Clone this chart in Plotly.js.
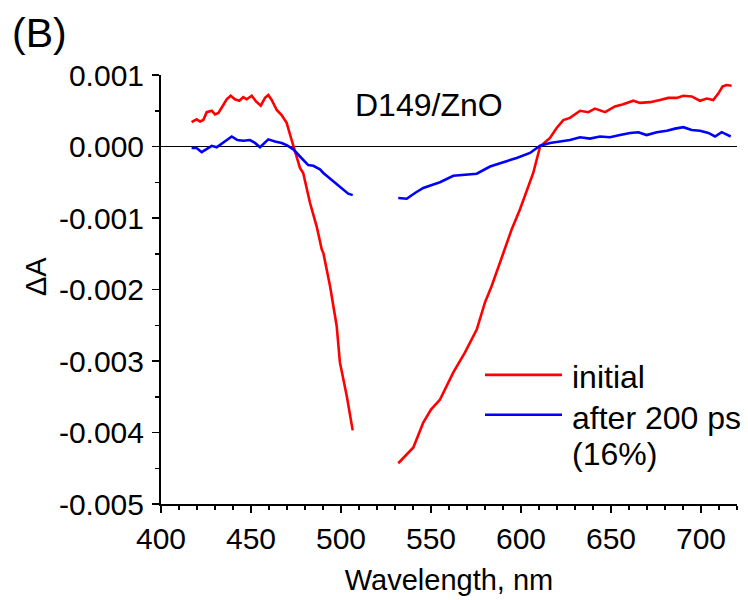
<!DOCTYPE html>
<html><head><meta charset="utf-8">
<script src="https://cdn.plot.ly/plotly-3.0.1.min.js"></script>
<style>html,body{margin:0;padding:0;background:#fff;}</style>
</head><body>
<div id="chart" style="width:748px;height:600px;"></div>
<script>
// initial spectrum (red), gap between segments as null
const initialX = [417,419.8,421.7,423.5,425.4,428.2,430,431.9,434.6,436.5,438.7,441.1,443.5,445.7,447.6,450.4,452.8,455.4,457.8,459.6,461.5,464.3,467,469.8,472,474.4,477.2,479,482.8,486.5,489.3,490.2,493.9,497.6,499.4,503.2,506.5,
  null,
  531.8,536,540.2,545.7,550,555,562.4,568.9,575.4,580,583.7,590.2,594.8,599.4,606.8,610.6,616.1,619.8,623.5,627.2,632.8,637.4,641.1,646.7,652.2,656.8,662.4,666.1,671.7,677.2,681.8,686.5,690.2,694.8,699.4,703.2,706.8,709.6,712,714.3,717];
const initialY = [0.00034,0.00038,0.00035,0.00037,0.00048,0.0005,0.00045,0.00047,0.00058,0.00066,0.00071,0.00066,0.00064,0.00069,0.00066,0.00071,0.00063,0.00057,0.00068,0.00072,0.00065,0.00051,0.00044,0.00033,0.00014,-0.00007,-0.0003,-0.00037,-0.00079,-0.00112,-0.00144,-0.00149,-0.00195,-0.00251,-0.00302,-0.00349,-0.00397,
  null,
  -0.00443,-0.00432,-0.00421,-0.00386,-0.00368,-0.00354,-0.00316,-0.00288,-0.00256,-0.00218,-0.00195,-0.00149,-0.00116,-0.00088,-0.00037,0.0,0.00012,0.00026,0.00037,0.0004,0.0005,0.00048,0.00053,0.00048,0.00056,0.00059,0.00064,0.00061,0.00062,0.00065,0.00068,0.00068,0.00071,0.0007,0.00064,0.00067,0.00065,0.00074,0.00084,0.00086,0.00085];

// after 200 ps spectrum (blue)
const laterX = [417,419.8,422.6,425.4,428.2,430.9,434.6,439.3,442.4,445.7,449.4,452.2,455,459.6,463.3,467,469.8,473.5,477.2,481.8,484.6,488.3,490.2,495.7,500.4,504,506.5,
  null,
  531.8,536.5,541.1,545.7,551.3,555,562.4,568.9,575.4,582.8,589.3,597.6,605,610.6,616.1,621.7,627.2,632.8,638.3,643.9,649.4,655,660.6,665.2,669.8,675.4,681,685.6,690.2,694.8,699.4,704.1,707.8,711.5,714.3,716.5];
const laterY = [-0.00002,-0.00002,-0.00008,-0.00004,0.00001,-0.00001,0.00006,0.00014,0.00009,0.00008,0.00009,0.00005,-0.00001,0.0001,0.00007,0.00005,0.00002,-0.00004,-0.00014,-0.00026,-0.00027,-0.00032,-0.00037,-0.00049,-0.00058,-0.00066,-0.00068,
  null,
  -0.00072,-0.00073,-0.00065,-0.00058,-0.00053,-0.0005,-0.00041,-0.0004,-0.00038,-0.00028,-0.00023,-0.00016,-0.00009,0.00001,0.00005,0.00007,0.00009,0.00013,0.00011,0.00014,0.00013,0.00016,0.00019,0.0002,0.00016,0.0002,0.00022,0.00025,0.00027,0.00023,0.00022,0.00019,0.00014,0.0002,0.00017,0.00014];

const seriesNames = ["initial", "after 200 ps", "(16%)"];
const seriesColors = ["#ff0000", "#0000ff"];
const yTickVals = [0.001,0,-0.001,-0.002,-0.003,-0.004,-0.005];
const yTickText = ["0.001","0.000","-0.001","-0.002","-0.003","-0.004","-0.005"];
const xTickVals = [400,450,500,550,600,650,700];

const FONT = "Arial, 'Liberation Sans', sans-serif";

const traces = [
  {x: initialX, y: initialY, mode: "lines", name: seriesNames[0], connectgaps: false,
   line: {color: seriesColors[0], width: 2.6}, showlegend: false},
  {x: laterX, y: laterY, mode: "lines", name: seriesNames[1], connectgaps: false,
   line: {color: seriesColors[1], width: 2.6}, showlegend: false}
];

const layout = {
  width: 748, height: 600,
  margin: {l: 161, r: 11, t: 75, b: 96},
  paper_bgcolor: "#fff", plot_bgcolor: "#fff",
  font: {family: FONT, size: 30, color: "#000"},
  xaxis: {
    range: [400, 720], showgrid: false, zeroline: false,
    showline: true, linecolor: "#000", linewidth: 2,
    ticks: "outside", ticklen: 7, tickwidth: 1.5, tickcolor: "#000",
    tickvals: xTickVals, tickfont: {size: 30},
    minor: {dtick: 10, ticks: "outside", ticklen: 4, tickwidth: 1.5, tickcolor: "#000", showgrid: false},
    title: {text: "Wavelength, nm", font: {size: 29}, standoff: 16}
  },
  yaxis: {
    range: [-0.005, 0.001], showgrid: false,
    zeroline: true, zerolinecolor: "#000", zerolinewidth: 1.5,
    showline: true, linecolor: "#000", linewidth: 2,
    ticks: "outside", ticklen: 7, tickwidth: 1.5, tickcolor: "#000",
    ticklabelstandoff: 2,
    tickvals: yTickVals, ticktext: yTickText, tickfont: {size: 30},
    minor: {dtick: 0.0005, ticks: "outside", ticklen: 4, tickwidth: 1.5, tickcolor: "#000", showgrid: false}
  },
  shapes: [
    {type: "line", xref: "x", yref: "y", x0: 580, x1: 622.8, y0: -0.003194, y1: -0.003194,
     line: {color: seriesColors[0], width: 2.6}},
    {type: "line", xref: "x", yref: "y", x0: 580, x1: 622.8, y0: -0.003752, y1: -0.003752,
     line: {color: seriesColors[1], width: 2.6}}
  ],
  annotations: [
    {text: "(B)", xref: "paper", yref: "paper", x: -0.262, y: 1.098, xanchor: "left", yanchor: "middle",
     showarrow: false, font: {size: 41}},
    {text: "ΔA", xref: "paper", yref: "paper", x: -0.217, y: 0.529, xanchor: "center", yanchor: "middle",
     textangle: -90, showarrow: false, font: {size: 29}},
    {text: "D149/ZnO", xref: "x", yref: "y", x: 548.9, y: 0.00058, xanchor: "center", yanchor: "middle",
     showarrow: false, font: {size: 32}},
    {text: seriesNames[0], xref: "x", yref: "y", x: 627.2, y: -0.003226, xanchor: "left", yanchor: "middle",
     showarrow: false, font: {size: 32}},
    {text: seriesNames[1], xref: "x", yref: "y", x: 627.2, y: -0.0038, xanchor: "left", yanchor: "middle",
     showarrow: false, font: {size: 32}},
    {text: seriesNames[2], xref: "x", yref: "y", x: 627.2, y: -0.0043, xanchor: "left", yanchor: "middle",
     showarrow: false, font: {size: 32}}
  ]
};

Plotly.newPlot("chart", traces, layout, {staticPlot: true, displayModeBar: false});
</script>
</body></html>
